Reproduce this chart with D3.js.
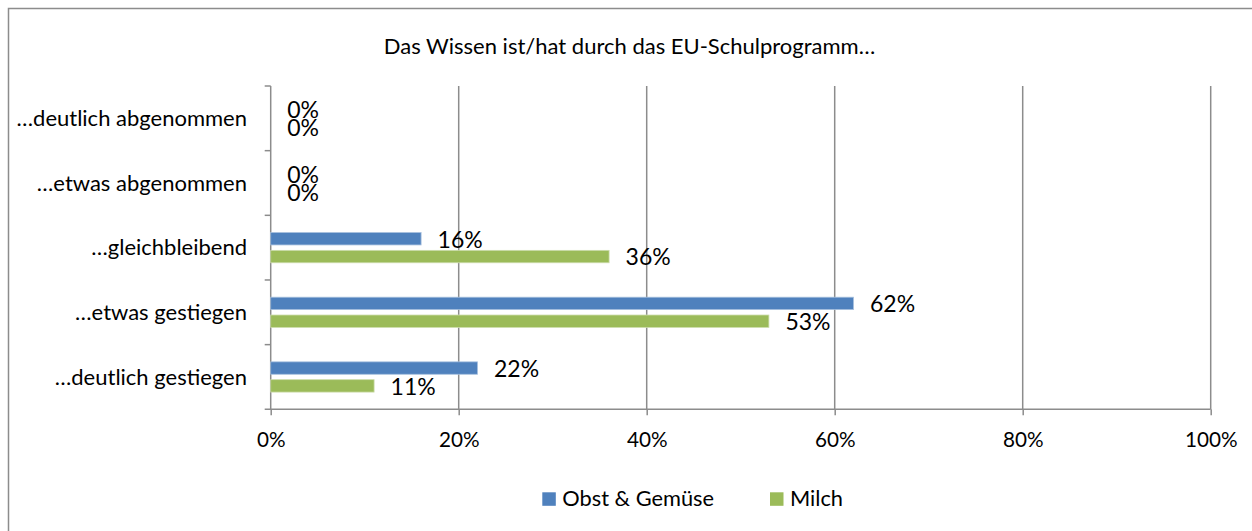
<!DOCTYPE html>
<html>
<head>
<meta charset="utf-8">
<script src="https://cdn.jsdelivr.net/npm/d3@7"></script>
<style>
  html, body { margin: 0; padding: 0; background: #fff; }
  svg { display: block; font-family: Lato, "Open Sans", sans-serif; }
</style>
</head>
<body>
<svg id="chart" width="1252" height="531"></svg>
<script>
// Answer categories, top to bottom
const categories = [
  "…deutlich abgenommen",
  "…etwas abgenommen",
  "…gleichbleibend",
  "…etwas gestiegen",
  "…deutlich gestiegen"
];
// Series names
const seriesNames = ["Obst & Gemüse", "Milch"];
// Shares in percent, per category
const obstGemuse = [0, 0, 16, 62, 22];
const milch = [0, 0, 36, 53, 11];
// Axis ticks (fractions)
const xTicks = [0, 0.2, 0.4, 0.6, 0.8, 1.0];
const title = "Das Wissen ist/hat durch das EU-Schulprogramm…";

const colors = { "Obst & Gemüse": "#4f81bd", "Milch": "#9bbb59" };
const edge = { "Obst & Gemüse": "#a7c0de", "Milch": "#cddcac" };
const gridColor = "#8c8c8c";

const rows = categories.map((c, i) => ({
  category: c,
  values: [
    { series: seriesNames[0], value: obstGemuse[i] / 100 },
    { series: seriesNames[1], value: milch[i] / 100 }
  ]
}));

const svg = d3.select("#chart");

// outer frame
svg.append("rect")
  .attr("x", 8.5).attr("y", 8.5)
  .attr("width", 1300).attr("height", 600)
  .attr("fill", "none").attr("stroke", "#8c8c8c").attr("stroke-width", 1.5);

const plot = { left: 270.7, right: 1210.7, top: 86, bottom: 409.3 };

const x = d3.scaleLinear().domain([0, 1]).range([plot.left, plot.right]);
const y = d3.scaleBand().domain(categories).range([plot.top, plot.bottom]).padding(0);
const ySeries = d3.scaleBand().domain(seriesNames)
  .range([0, y.bandwidth()]).paddingInner(0.303).paddingOuter(0.966);

// title
svg.append("text")
  .attr("x", 629.5).attr("y", 54)
  .attr("text-anchor", "middle")
  .attr("font-size", 22)
  .attr("fill", "#000")
  .text(title);

// vertical gridlines
svg.append("g")
  .selectAll("line")
  .data(xTicks.filter(t => t > 0))
  .join("line")
  .attr("x1", d => x(d)).attr("x2", d => x(d))
  .attr("y1", plot.top).attr("y2", plot.bottom)
  .attr("stroke", gridColor).attr("stroke-width", 1.5);

// bottom axis
const xAxis = d3.axisBottom(x)
  .tickValues(xTicks)
  .tickFormat(d3.format(".0%"))
  .tickSize(6)
  .tickPadding(17);
const gx = svg.append("g")
  .attr("transform", `translate(0,${plot.bottom})`)
  .call(xAxis);
gx.select(".domain").remove();
gx.append("line")
  .attr("x1", plot.left - 6).attr("x2", plot.right)
  .attr("stroke", gridColor).attr("stroke-width", 1.5);
gx.selectAll(".tick line").attr("stroke", gridColor).attr("stroke-width", 1.5);
gx.selectAll(".tick text")
  .attr("font-size", 20.7)
  .attr("font-family", "Lato, sans-serif")
  .attr("fill", "#000");

// left axis: category labels, ticks on band boundaries
const gy = svg.append("g");
gy.append("line")
  .attr("x1", plot.left).attr("x2", plot.left)
  .attr("y1", plot.top).attr("y2", plot.bottom)
  .attr("stroke", gridColor).attr("stroke-width", 1.5);
gy.selectAll("line.tick")
  .data(categories)
  .join("line")
  .attr("class", "tick")
  .attr("x1", plot.left - 6).attr("x2", plot.left)
  .attr("y1", d => y(d)).attr("y2", d => y(d))
  .attr("stroke", gridColor).attr("stroke-width", 1.5);
gy.selectAll("text")
  .data(categories)
  .join("text")
  .attr("x", 247)
  .attr("y", d => y(d) + y.bandwidth() / 2)
  .attr("dy", "0.35em")
  .attr("text-anchor", "end")
  .attr("font-size", 22)
  .attr("fill", "#000")
  .text(d => d);

// bars
const groups = svg.append("g")
  .selectAll("g")
  .data(rows)
  .join("g")
  .attr("transform", d => `translate(0,${y(d.category)})`);

groups.selectAll("rect")
  .data(d => d.values)
  .join("rect")
  .attr("x", x(0))
  .attr("y", d => ySeries(d.series))
  .attr("width", d => x(d.value) - x(0))
  .attr("height", ySeries.bandwidth())
  .attr("fill", d => colors[d.series])
  .attr("stroke", d => d.value > 0 ? edge[d.series] : "none")
  .attr("stroke-width", 0.8);

// value labels
groups.selectAll("text")
  .data(d => d.values)
  .join("text")
  .attr("x", d => x(d.value) + 16.5)
  .attr("y", d => ySeries(d.series) + ySeries.bandwidth() / 2)
  .attr("dy", 8.8)
  .attr("font-size", 23)
  .attr("fill", "#000")
  .text(d => d3.format(".0%")(d.value));

// legend
const legend = svg.append("g");
const legendItems = [
  { name: seriesNames[0], x: 542.3 },
  { name: seriesNames[1], x: 770 }
];
const li = legend.selectAll("g")
  .data(legendItems)
  .join("g")
  .attr("transform", d => `translate(${d.x},492.3)`);
li.append("rect")
  .attr("width", 13.5).attr("height", 13.5)
  .attr("fill", d => colors[d.name]);
li.append("text")
  .attr("x", 20)
  .attr("y", 13.5)
  .attr("font-size", 21.8)
  .attr("fill", "#000")
  .text(d => d.name);
</script>
</body>
</html>
